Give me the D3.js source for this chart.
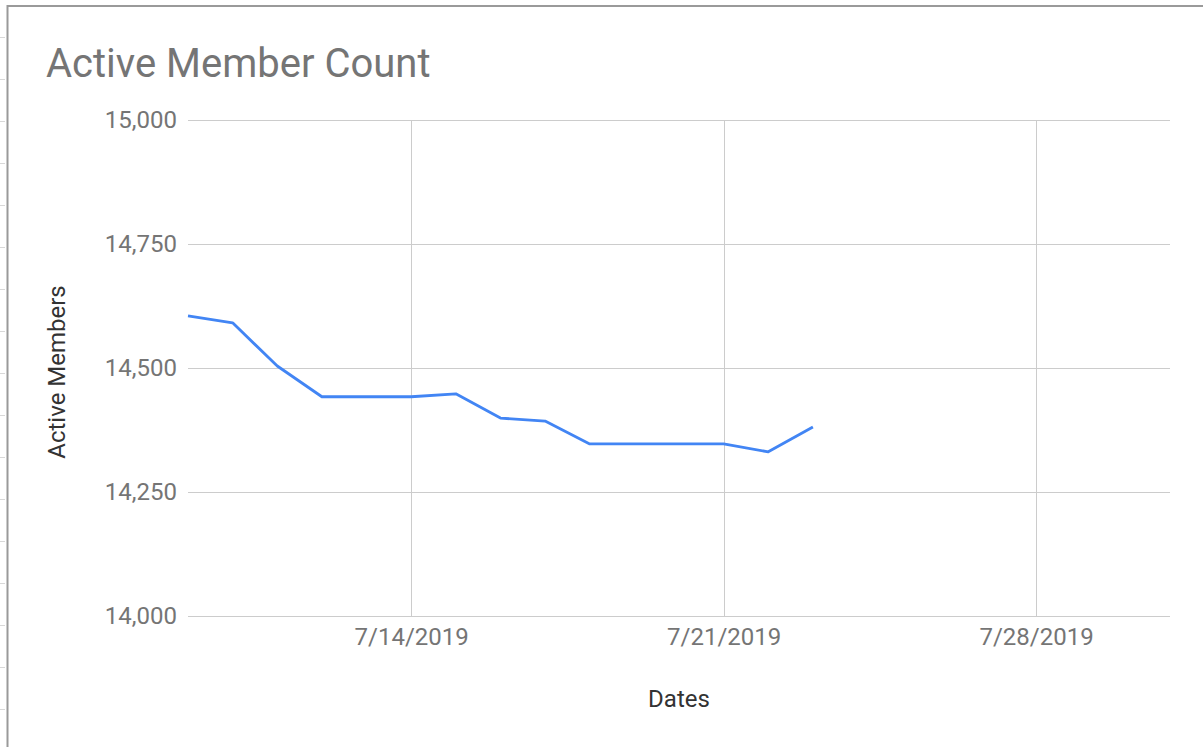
<!DOCTYPE html>
<html>
<head>
<meta charset="utf-8">
<script src="https://cdn.jsdelivr.net/npm/d3@7"></script>
<style>
  html, body { margin: 0; padding: 0; background: #fff; }
  svg { display: block; font-family: Roboto, "Noto Sans", sans-serif; }
</style>
</head>
<body>
<svg id="chart"></svg>
<script>
const dates = [
  "2019-07-09", "2019-07-10", "2019-07-11", "2019-07-12", "2019-07-13",
  "2019-07-14", "2019-07-15", "2019-07-16", "2019-07-17", "2019-07-18",
  "2019-07-19", "2019-07-20", "2019-07-21", "2019-07-22", "2019-07-23"
];
const activeMembers = [
  14605, 14591, 14504, 14442, 14442,
  14442, 14448, 14399, 14393, 14347,
  14347, 14347, 14347, 14331, 14381
];
const yTicks = [14000, 14250, 14500, 14750, 15000];
const xTicks = ["2019-07-14", "2019-07-21", "2019-07-28"];

const width = 1203;
const height = 747;
const margin = { top: 120, right: 33, bottom: 131, left: 188 };

const parse = d3.timeParse("%Y-%m-%d");
const data = dates.map((d, i) => ({ date: parse(d), value: activeMembers[i] }));

const svg = d3.select("#chart")
  .attr("width", width)
  .attr("height", height);

// sheet frame
svg.append("line")
  .attr("x1", 7.5).attr("x2", width).attr("y1", 6).attr("y2", 6)
  .attr("stroke", "#9a9a9a").attr("stroke-width", 2);
svg.append("line")
  .attr("x1", 7.5).attr("x2", 7.5).attr("y1", 5).attr("y2", height)
  .attr("stroke", "#9a9a9a").attr("stroke-width", 2);
svg.append("g")
  .selectAll("line")
  .data(d3.range(37, height, 42))
  .join("line")
  .attr("x1", 0).attr("x2", 5)
  .attr("y1", d => d + 0.5).attr("y2", d => d + 0.5)
  .attr("stroke", "#d8d8d8");

const x = d3.scaleTime()
  .domain([parse("2019-07-09"), parse("2019-07-31")])
  .range([margin.left, width - margin.right]);

const y = d3.scaleLinear()
  .domain([14000, 15000])
  .range([height - margin.bottom, margin.top]);

// grid
svg.append("g")
  .selectAll("line")
  .data(yTicks)
  .join("line")
  .attr("x1", margin.left).attr("x2", width - margin.right)
  .attr("y1", d => Math.round(y(d)) + 0.5).attr("y2", d => Math.round(y(d)) + 0.5)
  .attr("stroke", "#cccccc");

svg.append("g")
  .selectAll("line")
  .data(xTicks)
  .join("line")
  .attr("x1", d => Math.round(x(parse(d))) + 0.5).attr("x2", d => Math.round(x(parse(d))) + 0.5)
  .attr("y1", margin.top).attr("y2", height - margin.bottom)
  .attr("stroke", "#cccccc");

// y axis labels
const yAxis = d3.axisLeft(y)
  .tickValues(yTicks)
  .tickFormat(d3.format(","))
  .tickSize(0)
  .tickPadding(11);

svg.append("g")
  .attr("transform", `translate(${margin.left},0)`)
  .call(yAxis)
  .call(g => g.select(".domain").remove())
  .call(g => g.selectAll("text")
    .attr("fill", "#757575")
    .style("font-size", "24px")
    .style("font-family", "Roboto, sans-serif"));

// x axis labels
const xAxis = d3.axisBottom(x)
  .tickValues(xTicks.map(parse))
  .tickFormat(d3.timeFormat("%-m/%-d/%Y"))
  .tickSize(0)
  .tickPadding(12);

svg.append("g")
  .attr("transform", `translate(0,${height - margin.bottom})`)
  .call(xAxis)
  .call(g => g.select(".domain").remove())
  .call(g => g.selectAll("text")
    .attr("fill", "#757575")
    .style("font-size", "24px")
    .style("font-family", "Roboto, sans-serif"));

// line
const line = d3.line()
  .x(d => x(d.date))
  .y(d => y(d.value));

svg.append("path")
  .datum(data)
  .attr("fill", "none")
  .attr("stroke", "#4285f4")
  .attr("stroke-width", 2.8)
  .attr("stroke-linejoin", "round")
  .attr("d", line);

// title and axis titles
svg.append("text")
  .attr("x", 46)
  .attr("y", 77)
  .attr("fill", "#757575")
  .style("font-size", "40px")
  .text("Active Member Count");

svg.append("text")
  .attr("x", (margin.left + width - margin.right) / 2)
  .attr("y", 707)
  .attr("text-anchor", "middle")
  .attr("fill", "#333")
  .style("font-size", "24px")
  .text("Dates");

svg.append("text")
  .attr("transform", `translate(65,${(margin.top + height - margin.bottom) / 2 + 4}) rotate(-90)`)
  .attr("text-anchor", "middle")
  .attr("fill", "#333")
  .style("font-size", "24px")
  .text("Active Members");
</script>
</body>
</html>
